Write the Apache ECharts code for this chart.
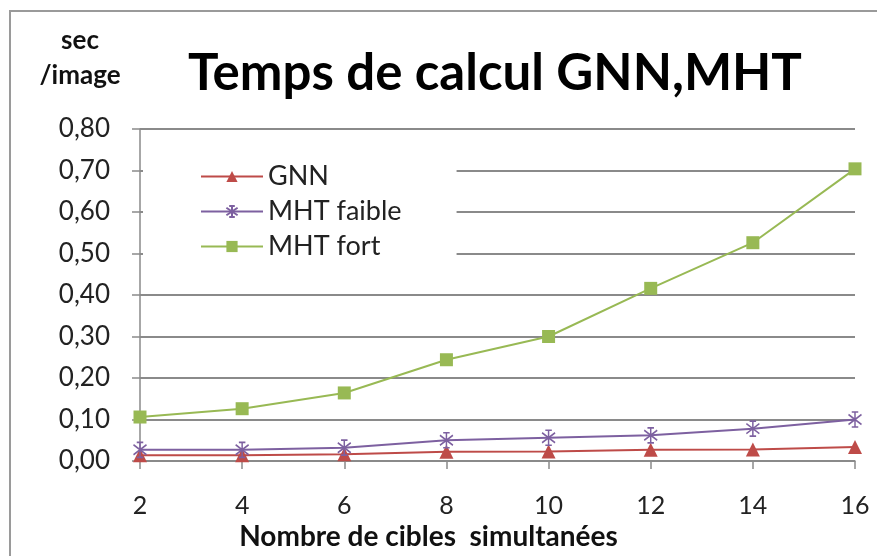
<!DOCTYPE html>
<html>
<head>
<meta charset="utf-8">
<script src="https://cdn.jsdelivr.net/npm/echarts@6/dist/echarts.min.js"></script>
<style>
  html, body { margin: 0; padding: 0; background: #fff; }
  #chart { width: 877px; height: 556px; }
</style>
</head>
<body>
<div id="chart"></div>
<script>
// Nombre de cibles simultanées (x) and computation time per image (sec)
const cibles = [2, 4, 6, 8, 10, 12, 14, 16];
const gnn = [0.014, 0.014, 0.016, 0.022, 0.023, 0.027, 0.028, 0.034];
const mhtFaible = [0.027, 0.027, 0.032, 0.050, 0.056, 0.062, 0.078, 0.100];
const mhtFort = [0.106, 0.126, 0.164, 0.244, 0.300, 0.416, 0.526, 0.704];
const seriesNames = ['GNN', 'MHT faible', 'MHT fort'];

const FONT = 'Lato, "Open Sans", sans-serif';
const GRAY = '#8a8a8a';

// Excel-like asterisk marker: vertical bar, two diagonals and end caps
const asterisk = 'path://M5,0L5,12M0,2L10,10M10,2L0,10M2.5,0L7.5,0M2.5,12L7.5,12';

function pairs(vals) {
  return cibles.map((x, i) => [x, vals[i]]);
}

const chart = echarts.init(document.getElementById('chart'), null, { renderer: 'canvas' });

chart.setOption({
  backgroundColor: '#fff',
  animation: false,
  title: {
    text: 'Temps de calcul GNN,MHT',
    left: 490,
    top: 43,
    textAlign: 'center',
    textStyle: { fontFamily: FONT, fontWeight: 'bold', fontSize: 51, color: '#000' }
  },
  graphic: [{
    type: 'rect',
    shape: { x: 10, y: 11, width: 900, height: 600 },
    style: { fill: 'none', stroke: '#9a9a9a', lineWidth: 2 },
    silent: true
  }],
  legend: {
    orient: 'vertical',
    left: 143,
    top: 153,
    padding: [10, 55, 14, 57],
    backgroundColor: '#fff',
    itemWidth: 62,
    itemHeight: 14,
    itemGap: 8,
    data: seriesNames,
    textStyle: { fontFamily: FONT, fontSize: 27, color: '#222' }
  },
  grid: { left: 140, right: 22, top: 129, bottom: 93 },
  xAxis: {
    type: 'value',
    min: 2, max: 16, interval: 2,
    name: 'Nombre de cibles  simultanées',
    nameLocation: 'middle',
    nameGap: 62,
    nameTextStyle: { fontFamily: FONT, fontWeight: 'bold', fontSize: 28, color: '#111', padding: [0, 138, 0, 0] },
    axisLine: { lineStyle: { color: GRAY, width: 1.5 } },
    axisTick: { show: true, length: 8, lineStyle: { color: GRAY, width: 1.5 } },
    axisLabel: { margin: 32, fontFamily: FONT, fontSize: 25, color: '#222' },
    splitLine: { show: false }
  },
  yAxis: {
    type: 'value',
    min: 0, max: 0.8, interval: 0.1,
    name: 'sec\n/image',
    nameLocation: 'end',
    nameGap: 36,
    nameTextStyle: { fontFamily: FONT, fontWeight: 'bold', fontSize: 26, color: '#111', align: 'center', lineHeight: 35, padding: [0, 120, 0, 0] },
    axisLine: { show: true, lineStyle: { color: GRAY, width: 1.5 } },
    axisTick: { show: true, length: 8, lineStyle: { color: GRAY, width: 1.5 } },
    axisLabel: {
      margin: 30, fontFamily: FONT, fontSize: 26, color: '#222',
      formatter: v => v.toFixed(2).replace('.', ',')
    },
    splitLine: { lineStyle: { color: GRAY, width: 2 } }
  },
  series: [
    {
      name: 'GNN', type: 'line', data: pairs(gnn),
      symbol: 'triangle', symbolSize: 14,
      color: '#BE4B48',
      lineStyle: { color: '#BE4B48', width: 2 },
      itemStyle: { color: '#BE4B48' }
    },
    {
      name: 'MHT faible', type: 'line', data: pairs(mhtFaible),
      symbol: asterisk, symbolSize: [13, 15],
      color: '#7D60A0',
      lineStyle: { color: '#7D60A0', width: 2 },
      itemStyle: { color: 'rgba(0,0,0,0)', borderColor: '#7D60A0', borderWidth: 1.6 }
    },
    {
      name: 'MHT fort', type: 'line', data: pairs(mhtFort),
      symbol: 'rect', symbolSize: 13,
      color: '#98B954',
      lineStyle: { color: '#98B954', width: 2 },
      itemStyle: { color: '#98B954' }
    }
  ]
});
</script>
</body>
</html>
